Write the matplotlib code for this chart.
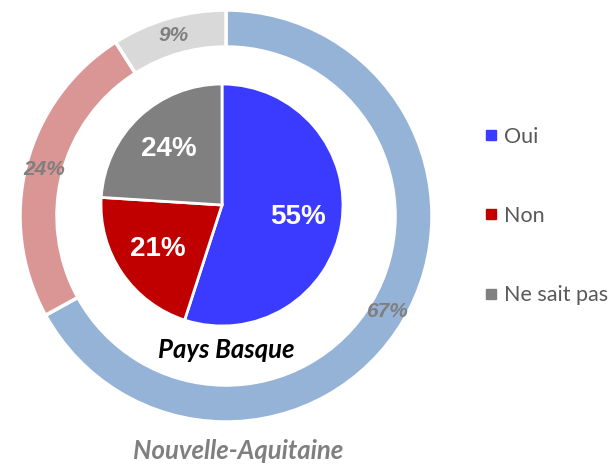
import matplotlib
matplotlib.use("Agg")
import matplotlib.pyplot as plt
from matplotlib.lines import Line2D

# ── data ────────────────────────────────────────────────────────────────
categories   = ["Oui", "Non", "Ne sait pas"]
pays_basque  = [55, 21, 24]          # inner pie
nouvelle_aq  = [67, 24, 9]           # outer ring

inner_colors = ["#3B3BFF", "#C00000", "#808080"]
outer_colors = ["#95B3D7", "#D99694", "#D9D9D9"]

# ── figure in pixel coordinates ────────────────────────────────────────
W, H = 613, 465
fig = plt.figure(figsize=(W / 100, H / 100), dpi=100)
ax = fig.add_axes([0, 0, 1, 1])

num_font = "Liberation Sans"
txt_font = "Lato"

# outer ring (Nouvelle-Aquitaine)
wedges_o, _, pct_o = ax.pie(
    nouvelle_aq, colors=outer_colors, startangle=90, counterclock=False,
    radius=206, center=(226, H - 216), frame=True,
    autopct=lambda p: f"{p:.0f}%", pctdistance=0.91,
    wedgeprops=dict(width=37, edgecolor="white", linewidth=2.5),
)
for t in pct_o:
    t.set(color="#7F7F7F", fontsize=15, fontweight="bold", fontstyle="italic",
          family=num_font)

# inner pie (Pays Basque)
wedges_i, _, pct_i = ax.pie(
    pays_basque, colors=inner_colors, startangle=90, counterclock=False,
    radius=121, center=(222, H - 205), frame=True,
    autopct=lambda p: f"{p:.0f}%", pctdistance=0.64,
    wedgeprops=dict(edgecolor="white", linewidth=2),
)
for t in pct_i:
    t.set(color="white", fontsize=20, fontweight="bold", family=num_font)

ax.set_xlim(0, W)
ax.set_ylim(0, H)
ax.set_aspect("equal")
ax.axis("off")

ax.text(226, H - 350, "Pays Basque", ha="center", va="center",
        fontsize=18.5, fontweight="bold", fontstyle="italic", color="black",
        family=txt_font)
ax.text(238, H - 451, "Nouvelle-Aquitaine", ha="center", va="center",
        fontsize=18.5, fontweight="bold", fontstyle="italic", color="#7F7F7F",
        family=txt_font)

# legend
handles = [Line2D([], [], marker="s", linestyle="none", markersize=7,
                  markerfacecolor=c, markeredgecolor=c) for c in inner_colors]
ax.legend(handles, categories, loc="center left", bbox_to_anchor=(486 / W, 1 - 216 / H),
          frameon=False, handlelength=0.5, handletextpad=0.35, labelspacing=2.75,
          prop=dict(family=txt_font, size=15.5), labelcolor="#595959",
          borderpad=0, borderaxespad=0)

fig.savefig("out.png", dpi=100)
